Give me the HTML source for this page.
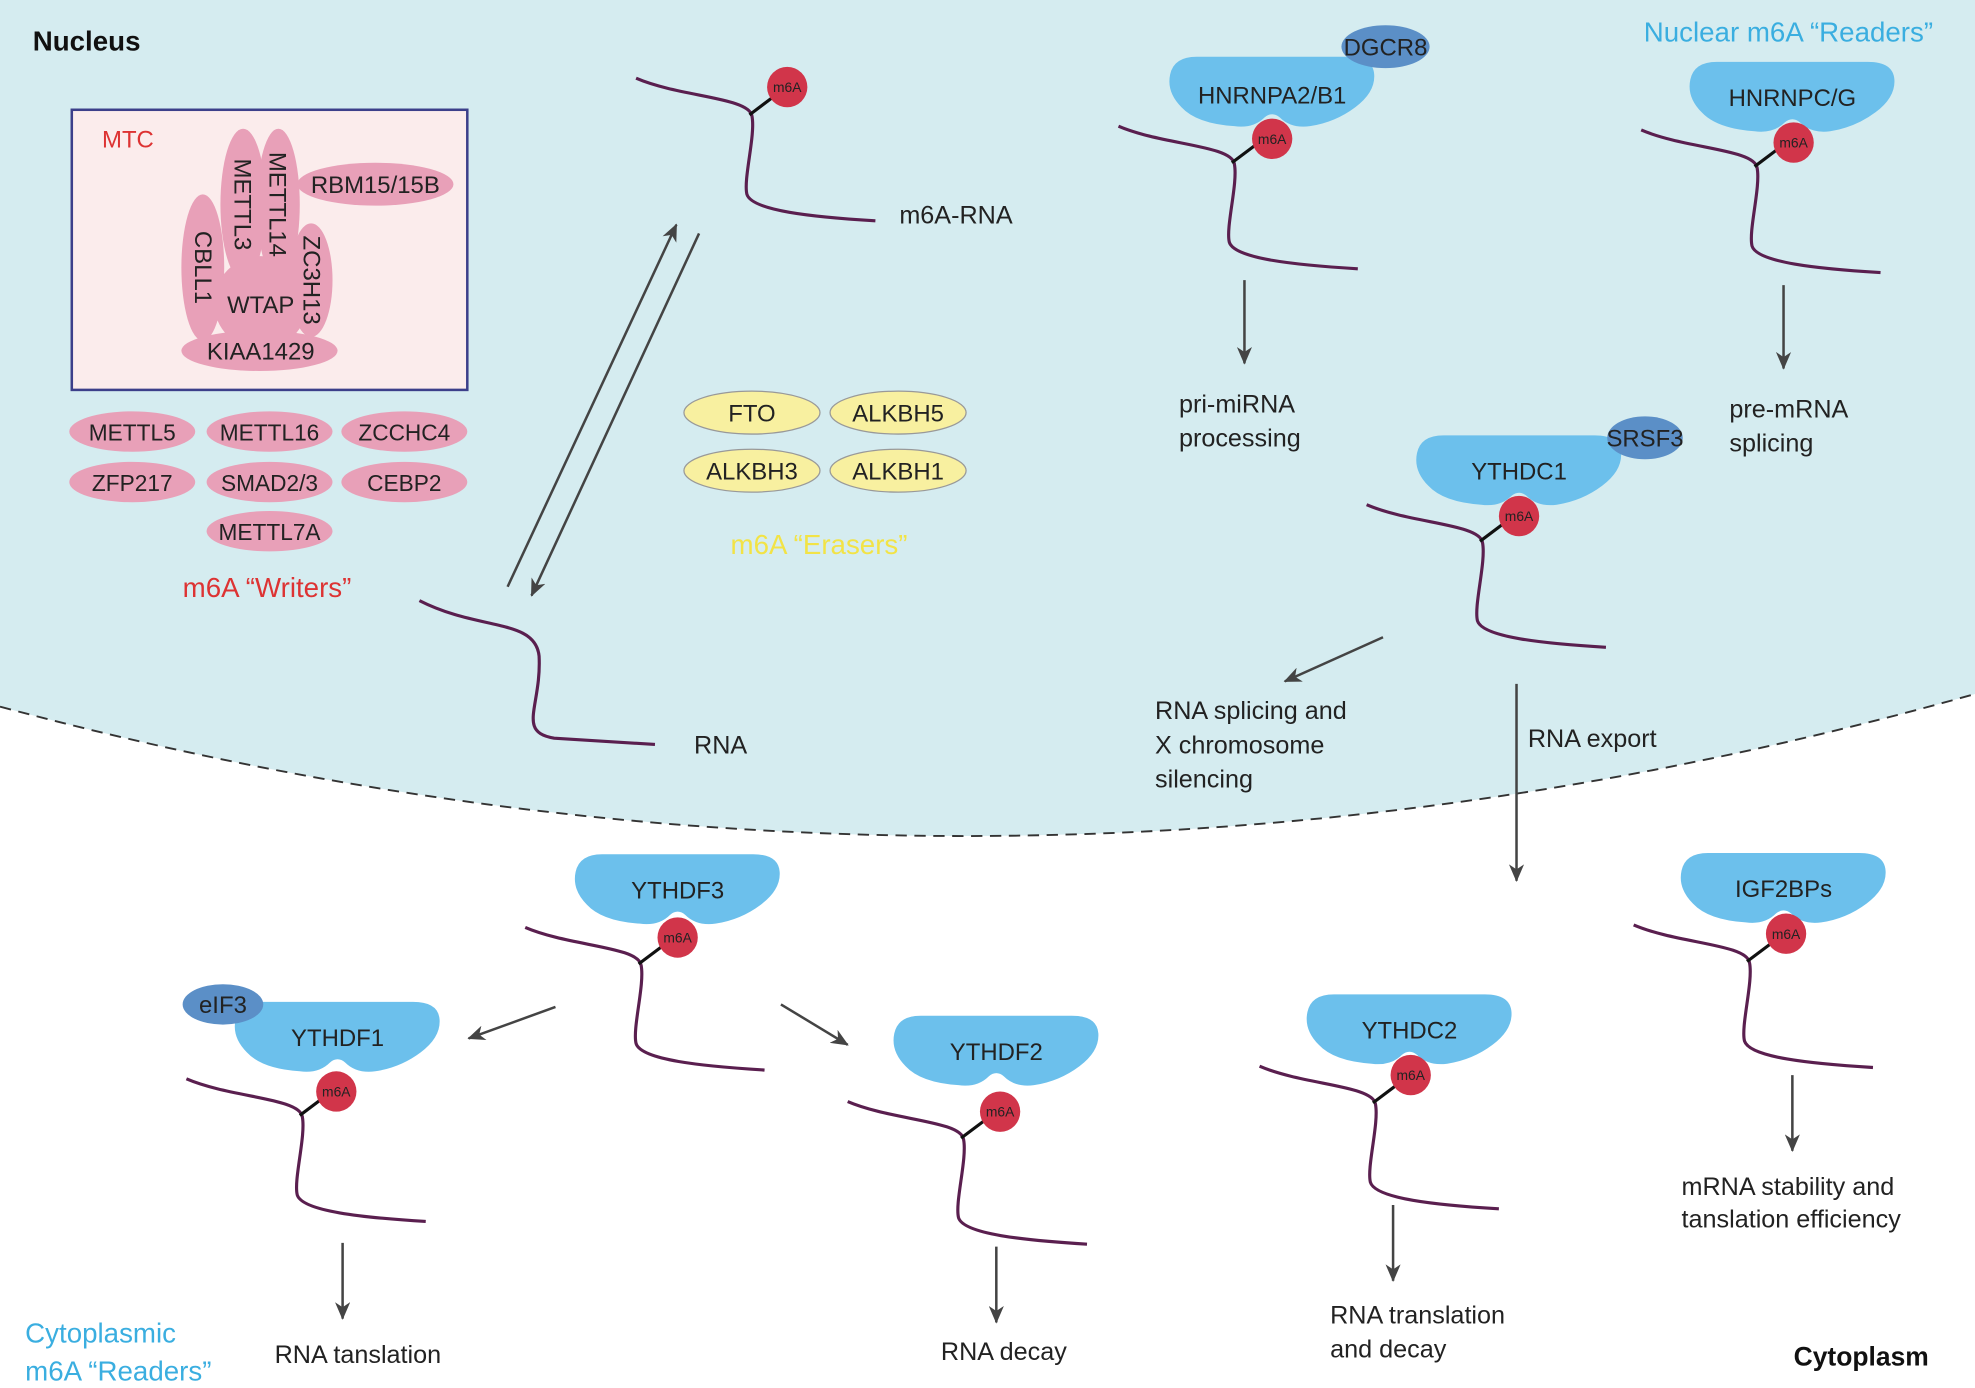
<!DOCTYPE html>
<html><head><meta charset="utf-8"><style>
html,body{margin:0;padding:0;background:#fff}
svg{display:block}
text{font-family:"Liberation Sans",sans-serif}
</style></head><body>
<svg width="1975" height="1388" viewBox="0 0 1568 1100" preserveAspectRatio="none" xmlns="http://www.w3.org/2000/svg">
<defs>
<marker id="ah" markerWidth="14" markerHeight="12" refX="13" refY="6" orient="auto" markerUnits="userSpaceOnUse">
<path d="M0,0 L14,6 L0,12 L4,6 Z" fill="#444"/></marker>
<path id="blob" d="M-60,-28 L60,-28 Q80,-28 81,-14 Q82,0 66,12 Q50,24 30,27 Q15,29 6,20 Q0,15 -6,20 Q-15,29 -30,27 Q-60,25 -72,12 Q-84,0 -81,-14 Q-78,-28 -60,-28 Z" fill="#6cc0ec"/>
<g id="rna">
<path d="M0,0 C35,15 90,15 92,30 C95,45 85,80 88,92 C92,105 140,110 190,113" fill="none" stroke="#5a1f4f" stroke-width="2.5"/>
<line x1="90" y1="29" x2="110" y2="14" stroke="#111" stroke-width="2.5"/>
</g>
</defs>
<rect width="1568" height="1100" fill="#fff"/>
<path d="M0,0 H1568 V550 Q784,770 0,560 Z" fill="#d5ecf0"/>
<path d="M0,560 Q784,770 1568,550" fill="none" stroke="#333" stroke-width="1.5" stroke-dasharray="9,6"/>

<text x="26" y="40" font-size="22" font-weight="bold" fill="#111">Nucleus</text>
<text x="1305" y="33" font-size="22" fill="#3aaee0">Nuclear m6A “Readers”</text>

<rect x="57" y="87" width="314" height="222" fill="#fbecec" stroke="#3c3f8a" stroke-width="2"/>
<text x="81" y="117" font-size="19" fill="#d33">MTC</text>
<g fill="#e8a0b8">
<ellipse cx="161" cy="212" rx="17" ry="58"/>
<ellipse cx="193" cy="162" rx="18" ry="60"/>
<ellipse cx="221" cy="162" rx="17" ry="60"/>
<ellipse cx="247" cy="222" rx="17" ry="45"/>
<circle cx="207" cy="240" r="37"/>
<ellipse cx="206" cy="278" rx="62" ry="16"/>
<ellipse cx="298" cy="146" rx="62" ry="17"/>
</g>
<g font-size="19" fill="#222" text-anchor="middle">
<text transform="translate(155,212) rotate(90)">CBLL1</text>
<text transform="translate(186,162) rotate(90)">METTL3</text>
<text transform="translate(214,162) rotate(90)">METTL14</text>
<text transform="translate(241,222) rotate(90)">ZC3H13</text>
<text x="207" y="248">WTAP</text>
<text x="207" y="285">KIAA1429</text>
<text x="298" y="153">RBM15/15B</text>
</g>
<g fill="#e8a0b8">
<ellipse cx="105" cy="342" rx="50" ry="16"/><ellipse cx="214" cy="342" rx="50" ry="16"/><ellipse cx="321" cy="342" rx="50" ry="16"/>
<ellipse cx="105" cy="382" rx="50" ry="16"/><ellipse cx="214" cy="382" rx="50" ry="16"/><ellipse cx="321" cy="382" rx="50" ry="16"/>
<ellipse cx="214" cy="421" rx="50" ry="16"/>
</g>
<g font-size="18" fill="#222" text-anchor="middle">
<text x="105" y="349">METTL5</text><text x="214" y="349">METTL16</text><text x="321" y="349">ZCCHC4</text>
<text x="105" y="389">ZFP217</text><text x="214" y="389">SMAD2/3</text><text x="321" y="389">CEBP2</text>
<text x="214" y="428">METTL7A</text>
</g>
<text x="145" y="473" font-size="22" fill="#d33">m6A “Writers”</text>

<g fill="#f8f0a0" stroke="#999" stroke-width="1">
<ellipse cx="597" cy="327" rx="54" ry="17"/><ellipse cx="713" cy="327" rx="54" ry="17"/>
<ellipse cx="597" cy="373" rx="54" ry="17"/><ellipse cx="713" cy="373" rx="54" ry="17"/>
</g>
<g font-size="19" fill="#222" text-anchor="middle">
<text x="597" y="334">FTO</text><text x="713" y="334">ALKBH5</text>
<text x="597" y="380">ALKBH3</text><text x="713" y="380">ALKBH1</text>
</g>
<text x="580" y="439" font-size="22" fill="#f2e346">m6A “Erasers”</text>

<g transform="translate(505,62)"><use href="#rna"/><circle cx="120" cy="7" r="16" fill="#d1354a"/><text x="120" y="11" font-size="11" text-anchor="middle" fill="#222">m6A</text></g>
<text x="714" y="177" font-size="20" fill="#222">m6A-RNA</text>
<line x1="403" y1="465" x2="537" y2="178" stroke="#444" stroke-width="2" marker-end="url(#ah)"/>
<line x1="555" y1="185" x2="422" y2="472" stroke="#444" stroke-width="2" marker-end="url(#ah)"/>
<path d="M333,476 C380,500 425,490 428,520 C430,560 410,580 440,585 L520,590" fill="none" stroke="#5a1f4f" stroke-width="2.5"/>
<text x="551" y="597" font-size="20" fill="#222">RNA</text>

<g transform="translate(888,100)"><use href="#rna"/><use href="#blob" transform="translate(122,-27)"/><text x="122" y="-18" font-size="19" text-anchor="middle" fill="#222">HNRNPA2/B1</text><circle cx="122" cy="10" r="16" fill="#d1354a"/><text x="122" y="14" font-size="11" text-anchor="middle" fill="#222">m6A</text></g>
<ellipse cx="1100" cy="37" rx="35" ry="17" fill="#5b8fc7"/><text x="1100" y="44" font-size="19" text-anchor="middle" fill="#222">DGCR8</text>
<line x1="988" y1="222" x2="988" y2="288" stroke="#444" stroke-width="2" marker-end="url(#ah)"/>
<text x="936" y="327" font-size="20" fill="#222">pri-miRNA</text><text x="936" y="354" font-size="20" fill="#222">processing</text>

<g transform="translate(1303,103)"><use href="#rna"/><use href="#blob" transform="translate(120,-26)"/><text x="120" y="-19" font-size="19" text-anchor="middle" fill="#222">HNRNPC/G</text><circle cx="121" cy="10" r="16" fill="#d1354a"/><text x="121" y="14" font-size="11" text-anchor="middle" fill="#222">m6A</text></g>
<line x1="1416" y1="226" x2="1416" y2="292" stroke="#444" stroke-width="2" marker-end="url(#ah)"/>
<text x="1373" y="331" font-size="20" fill="#222">pre-mRNA</text><text x="1373" y="358" font-size="20" fill="#222">splicing</text>

<g transform="translate(1085,400)"><use href="#rna"/><use href="#blob" transform="translate(121,-27)"/><text x="121" y="-20" font-size="19" text-anchor="middle" fill="#222">YTHDC1</text><circle cx="121" cy="9" r="16" fill="#d1354a"/><text x="121" y="13" font-size="11" text-anchor="middle" fill="#222">m6A</text></g>
<ellipse cx="1306" cy="347" rx="30" ry="17" fill="#5b8fc7"/><text x="1306" y="354" font-size="19" text-anchor="middle" fill="#222">SRSF3</text>
<line x1="1098" y1="505" x2="1020" y2="540" stroke="#444" stroke-width="2" marker-end="url(#ah)"/>
<text x="917" y="570" font-size="20" fill="#222">RNA splicing and</text><text x="917" y="597" font-size="20" fill="#222">X chromosome</text><text x="917" y="624" font-size="20" fill="#222">silencing</text>
<line x1="1204" y1="542" x2="1204" y2="698" stroke="#444" stroke-width="2" marker-end="url(#ah)"/>
<text x="1213" y="592" font-size="20" fill="#222">RNA export</text>

<g transform="translate(417,735)"><use href="#rna"/><use href="#blob" transform="translate(121,-30)"/><text x="121" y="-23" font-size="19" text-anchor="middle" fill="#222">YTHDF3</text><circle cx="121" cy="8" r="16" fill="#d1354a"/><text x="121" y="12" font-size="11" text-anchor="middle" fill="#222">m6A</text></g>
<line x1="441" y1="798" x2="372" y2="823" stroke="#444" stroke-width="2" marker-end="url(#ah)"/>
<line x1="620" y1="796" x2="673" y2="828" stroke="#444" stroke-width="2" marker-end="url(#ah)"/>

<g transform="translate(148,855)"><use href="#rna"/><use href="#blob" transform="translate(120,-33)"/><text x="120" y="-26" font-size="19" text-anchor="middle" fill="#222">YTHDF1</text><circle cx="119" cy="10" r="16" fill="#d1354a"/><text x="119" y="14" font-size="11" text-anchor="middle" fill="#222">m6A</text></g>
<ellipse cx="177" cy="796" rx="32" ry="16" fill="#5b8fc7"/><text x="177" y="803" font-size="19" text-anchor="middle" fill="#222">eIF3</text>
<line x1="272" y1="985" x2="272" y2="1045" stroke="#444" stroke-width="2" marker-end="url(#ah)"/>
<text x="218" y="1080" font-size="20" fill="#222">RNA tanslation</text>

<g transform="translate(673,873)"><use href="#rna"/><use href="#blob" transform="translate(118,-40)"/><text x="118" y="-33" font-size="19" text-anchor="middle" fill="#222">YTHDF2</text><circle cx="121" cy="8" r="16" fill="#d1354a"/><text x="121" y="12" font-size="11" text-anchor="middle" fill="#222">m6A</text></g>
<line x1="791" y1="988" x2="791" y2="1048" stroke="#444" stroke-width="2" marker-end="url(#ah)"/>
<text x="747" y="1078" font-size="20" fill="#222">RNA decay</text>

<g transform="translate(1000,845)"><use href="#rna"/><use href="#blob" transform="translate(119,-29)"/><text x="119" y="-22" font-size="19" text-anchor="middle" fill="#222">YTHDC2</text><circle cx="120" cy="7" r="16" fill="#d1354a"/><text x="120" y="11" font-size="11" text-anchor="middle" fill="#222">m6A</text></g>
<line x1="1106" y1="955" x2="1106" y2="1015" stroke="#444" stroke-width="2" marker-end="url(#ah)"/>
<text x="1056" y="1049" font-size="20" fill="#222">RNA translation</text><text x="1056" y="1076" font-size="20" fill="#222">and decay</text>

<g transform="translate(1297,733)"><use href="#rna"/><use href="#blob" transform="translate(119,-29)"/><text x="119" y="-22" font-size="19" text-anchor="middle" fill="#222">IGF2BPs</text><circle cx="121" cy="7" r="16" fill="#d1354a"/><text x="121" y="11" font-size="11" text-anchor="middle" fill="#222">m6A</text></g>
<line x1="1423" y1="852" x2="1423" y2="912" stroke="#444" stroke-width="2" marker-end="url(#ah)"/>
<text x="1335" y="947" font-size="20" fill="#222">mRNA stability and</text><text x="1335" y="973" font-size="20" fill="#222">tanslation efficiency</text>

<text x="20" y="1064" font-size="22" fill="#3aaee0">Cytoplasmic</text>
<text x="20" y="1094" font-size="22" fill="#3aaee0">m6A “Readers”</text>
<text x="1424" y="1082" font-size="21" font-weight="bold" fill="#111">Cytoplasm</text>
</svg>
</body></html>
